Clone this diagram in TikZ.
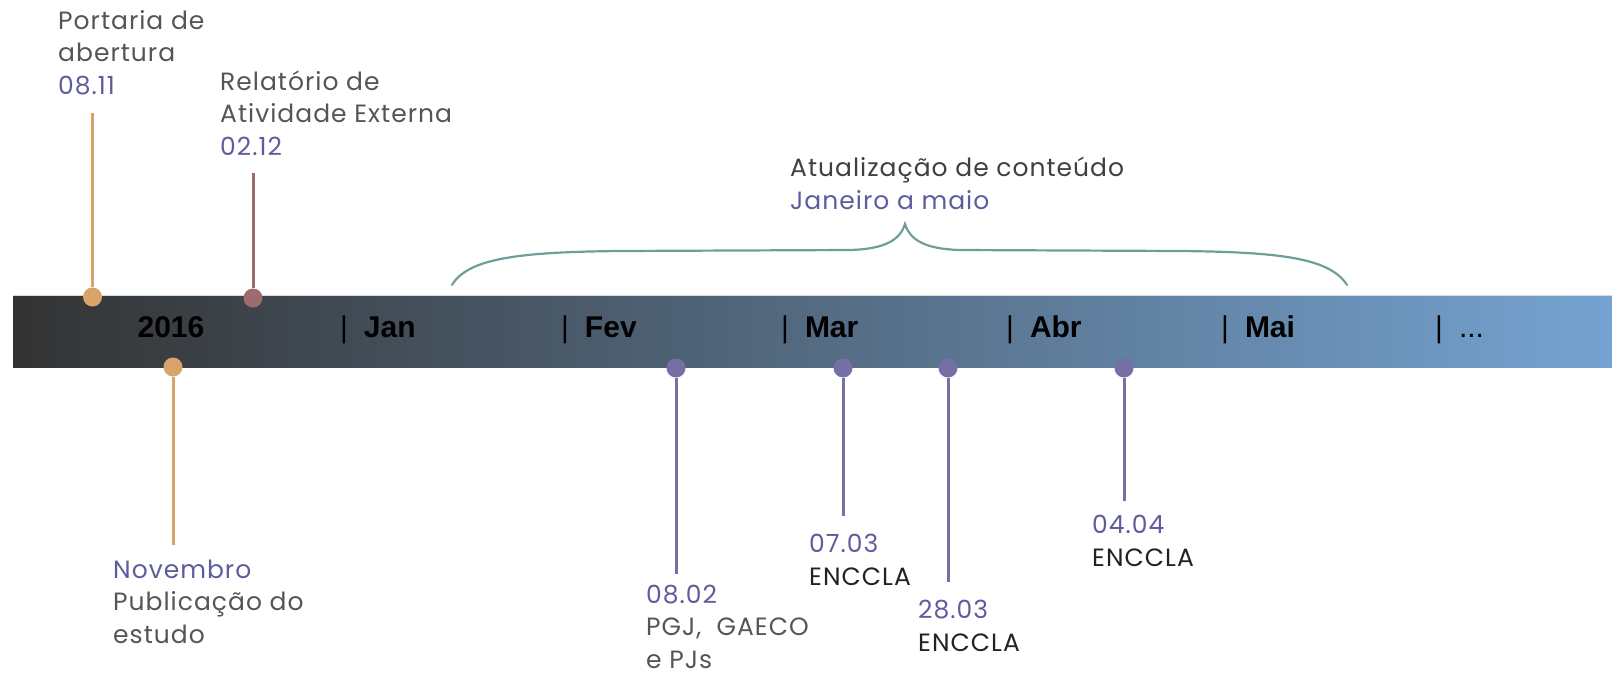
\documentclass[tikz,border=0pt]{standalone}
\usepackage{fontspec}
\setmainfont{Poppins}
\newfontfamily\lblfont[LetterSpace=4]{Poppins}
\newfontfamily\monthfont{Liberation Sans}
\definecolor{barL}{HTML}{333333}
\definecolor{barM}{HTML}{4F6378}
\definecolor{barR}{HTML}{75A3D1}
\definecolor{tanc}{HTML}{D9A46A}
\definecolor{mauve}{HTML}{9E6B6E}
\definecolor{purp}{HTML}{7470A5}
\definecolor{datec}{HTML}{5E5C9C}
\definecolor{txtc}{HTML}{555555}
\definecolor{darkc}{HTML}{222222}
\definecolor{bracec}{HTML}{6E9E9A}
\begin{document}
\begin{tikzpicture}[x=1pt,y=-1pt,
  lbl/.style={anchor=base west, inner sep=0pt, align=left, text=txtc,
    font=\lblfont\fontsize{25}{32.5}\selectfont},
  month/.style={anchor=base west, inner sep=0pt, text=black,
    font=\monthfont\fontsize{30}{34}\selectfont\bfseries},
  dot/.style={circle, inner sep=0pt, minimum size=19pt},
  stem/.style={line width=3pt}]
\useasboundingbox (0,0) rectangle (1612,675);
% bar
\shade[left color=barL, middle color=barM, right color=barR] (13,295) rectangle (1612,367);
\draw[black!15, line width=0.8pt] (13,295) -- (1612,295);
% month labels
\newcommand{\sepbar}{\textmd{|}\hspace{16pt}}
\node[month, anchor=base] (y2016) at (171,337) {2016};
\node[month] (jan) at (340,337) {\sepbar Jan};
\node[month] (fev) at (561,337) {\sepbar Fev};
\node[month] (mar) at (781,337) {\sepbar Mar};
\node[month] (abr) at (1006,337) {\sepbar Abr};
\node[month] (mai) at (1221,337) {\sepbar Mai};
\node[month] (etc) at (1435,337) {\sepbar\textmd{...}};
% dots
\node[dot, fill=tanc] (d1) at (92.5,297) {};
\node[dot, fill=mauve] (d2) at (253,298) {};
\node[dot, fill=tanc] (d3) at (173,367) {};
\node[dot, fill=purp] (d4) at (676,368) {};
\node[dot, fill=purp] (d5) at (843,368) {};
\node[dot, fill=purp] (d6) at (948,368) {};
\node[dot, fill=purp] (d7) at (1124,368) {};
% stem ends
\coordinate (e1) at (92.5,113);
\coordinate (e2) at (253,173);
\coordinate (e3) at (173,545);
\coordinate (e4) at (676,574);
\coordinate (e5) at (843,516);
\coordinate (e6) at (948,582);
\coordinate (e7) at (1124,501);
\draw[stem, tanc] (e1) -- (d1);
\draw[stem, mauve] (e2) -- (d2);
\draw[stem, tanc] (e3) -- (d3);
\draw[stem, purp] (e4) -- (d4);
\draw[stem, purp] (e5) -- (d5);
\draw[stem, purp] (e6) -- (d6);
\draw[stem, purp] (e7) -- (d7);
% labels (anchored at the baseline of their last line)
\node[lbl] (t1) at (58,94) {Portaria de\\abertura\\\textcolor{datec}{08.11}};
\node[lbl] (t2) at (220,155) {Relatório de\\Atividade Externa\\\textcolor{datec}{02.12}};
\node[lbl] (t3) at (113,643) {\textcolor{datec}{Novembro}\\Publicação do\\estudo};
\node[lbl] (t4) at (646,668) {\textcolor{datec}{08.02}\\PGJ,\ \ GAECO\\e PJs};
\node[lbl] (t5) at (809,585) {\textcolor{datec}{07.03}\\\textcolor{darkc}{ENCCLA}};
\node[lbl] (t6) at (918,651) {\textcolor{datec}{28.03}\\\textcolor{darkc}{ENCCLA}};
\node[lbl] (t7) at (1092,566) {\textcolor{datec}{04.04}\\\textcolor{darkc}{ENCCLA}};
\node[lbl, text=black!75] (t8) at (790,209) {Atualização de conteúdo\\\textcolor{datec}{Janeiro a maio}};
% brace
\coordinate (bl) at (452,285);
\coordinate (bt) at (905,224);
\coordinate (br) at (1347,285);
\draw[bracec, line width=2.2pt, line cap=round]
  (bl) .. controls (468,258) and (520,252) .. (620,251)
  -- (850,250) .. controls (885,249) and (900,240) .. (bt)
  .. controls (910,240) and (925,249) .. (960,250)
  -- (1180,251) .. controls (1280,252) and (1330,258) .. (br);
\end{tikzpicture}
\end{document}
